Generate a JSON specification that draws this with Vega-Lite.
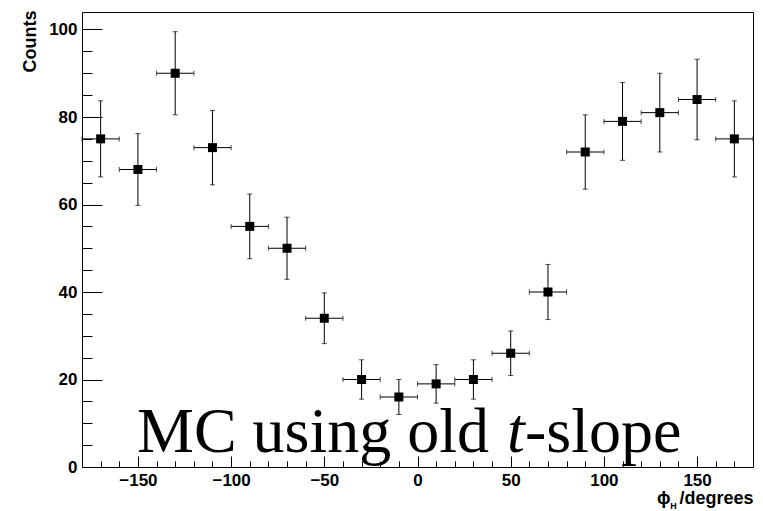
{
  "$schema": "https://vega.github.io/schema/vega-lite/v6.json",
  "width": 671,
  "height": 455,
  "autosize": "none",
  "padding": {"left": 82, "top": 12, "right": 10, "bottom": 44},
  "background": "white",
  "config": {
    "view": {"stroke": "black", "strokeWidth": 1},
    "font": "Liberation Sans",
    "axis": {"grid": false, "labelColor": "black", "titleColor": "black", "tickColor": "black"}
  },
  "data": {
    "values": [
      {"phi": -170, "lo": -180, "hi": -160, "count": 75, "elo": 66.3, "ehi": 83.7},
      {"phi": -150, "lo": -160, "hi": -140, "count": 68, "elo": 59.8, "ehi": 76.2},
      {"phi": -130, "lo": -140, "hi": -120, "count": 90, "elo": 80.5, "ehi": 99.5},
      {"phi": -110, "lo": -120, "hi": -100, "count": 73, "elo": 64.5, "ehi": 81.5},
      {"phi": -90, "lo": -100, "hi": -80, "count": 55, "elo": 47.6, "ehi": 62.4},
      {"phi": -70, "lo": -80, "hi": -60, "count": 50, "elo": 42.9, "ehi": 57.1},
      {"phi": -50, "lo": -60, "hi": -40, "count": 34, "elo": 28.2, "ehi": 39.8},
      {"phi": -30, "lo": -40, "hi": -20, "count": 20, "elo": 15.5, "ehi": 24.5},
      {"phi": -10, "lo": -20, "hi": 0, "count": 16, "elo": 12.0, "ehi": 20.0},
      {"phi": 10, "lo": 0, "hi": 20, "count": 19, "elo": 14.6, "ehi": 23.4},
      {"phi": 30, "lo": 20, "hi": 40, "count": 20, "elo": 15.5, "ehi": 24.5},
      {"phi": 50, "lo": 40, "hi": 60, "count": 26, "elo": 20.9, "ehi": 31.1},
      {"phi": 70, "lo": 60, "hi": 80, "count": 40, "elo": 33.7, "ehi": 46.3},
      {"phi": 90, "lo": 80, "hi": 100, "count": 72, "elo": 63.5, "ehi": 80.5},
      {"phi": 110, "lo": 100, "hi": 120, "count": 79, "elo": 70.1, "ehi": 87.9},
      {"phi": 130, "lo": 120, "hi": 140, "count": 81, "elo": 72.0, "ehi": 90.0},
      {"phi": 150, "lo": 140, "hi": 160, "count": 84, "elo": 74.8, "ehi": 93.2},
      {"phi": 170, "lo": 160, "hi": 180, "count": 75, "elo": 66.3, "ehi": 83.7}
    ]
  },
  "resolve": {"axis": {"x": "independent", "y": "independent"}},
  "layer": [
    {
      "mark": {"type": "rule", "color": "black", "strokeWidth": 1},
      "encoding": {
        "x": {"field": "phi", "type": "quantitative", "scale": {"domain": [-180, 180], "nice": false, "zero": false},
          "axis": {"orient": "bottom", "values": [-150, -100, -50, 0, 50, 100, 150], "ticks": false, "domain": false,
            "labelFontSize": 17, "labelFontWeight": "bold", "labelPadding": 5,
            "title": "ϕ\u2002/degrees", "titleFontSize": 18, "titleFontWeight": "bold", "titleAlign": "right", "titleBaseline": "alphabetic", "titleX": 671, "titleY": 36}},
        "y": {"field": "elo", "type": "quantitative", "scale": {"domain": [0, 104], "nice": false, "zero": false},
          "axis": {"orient": "left", "values": [0, 20, 40, 60, 80, 100], "ticks": false, "domain": false,
            "labelFontSize": 17, "labelFontWeight": "bold", "labelPadding": 5,
            "title": "Counts", "titleFontSize": 18, "titleFontWeight": "bold", "titleAnchor": "end", "titlePadding": 9, "titleY": -2}},
        "y2": {"field": "ehi"}
      }
    },
    {
      "mark": {"type": "rule", "color": "black", "strokeWidth": 1},
      "encoding": {
        "x": {"field": "lo", "type": "quantitative", "scale": {"domain": [-180, 180], "nice": false, "zero": false},
          "axis": {"orient": "bottom", "values": [-150, -100, -50, 0, 50, 100, 150], "tickSize": -11, "labels": false, "domain": false,
            "title": "H", "titleFontSize": 9, "titleFontWeight": "bold", "titleAlign": "center", "titleBaseline": "alphabetic", "titleX": 591, "titleY": 41}},
        "x2": {"field": "hi"},
        "y": {"field": "count", "type": "quantitative", "scale": {"domain": [0, 104], "nice": false, "zero": false},
          "axis": {"orient": "left", "values": [0, 20, 40, 60, 80, 100], "tickSize": -20, "labels": false, "domain": false, "title": null}}
      }
    },
    {
      "mark": {"type": "tick", "orient": "horizontal", "color": "black", "size": 5, "thickness": 1},
      "encoding": {
        "x": {"field": "phi", "type": "quantitative", "scale": {"domain": [-180, 180], "nice": false, "zero": false}, "axis": null},
        "y": {"field": "elo", "type": "quantitative", "scale": {"domain": [0, 104], "nice": false, "zero": false}, "axis": null}
      }
    },
    {
      "mark": {"type": "tick", "orient": "horizontal", "color": "black", "size": 5, "thickness": 1},
      "encoding": {
        "x": {"field": "phi", "type": "quantitative", "scale": {"domain": [-180, 180], "nice": false, "zero": false}, "axis": null},
        "y": {"field": "ehi", "type": "quantitative", "scale": {"domain": [0, 104], "nice": false, "zero": false}, "axis": null}
      }
    },
    {
      "mark": {"type": "tick", "orient": "vertical", "color": "black", "size": 5, "thickness": 1},
      "encoding": {
        "x": {"field": "lo", "type": "quantitative", "scale": {"domain": [-180, 180], "nice": false, "zero": false}, "axis": null},
        "y": {"field": "count", "type": "quantitative", "scale": {"domain": [0, 104], "nice": false, "zero": false}, "axis": null}
      }
    },
    {
      "mark": {"type": "tick", "orient": "vertical", "color": "black", "size": 5, "thickness": 1},
      "encoding": {
        "x": {"field": "hi", "type": "quantitative", "scale": {"domain": [-180, 180], "nice": false, "zero": false}, "axis": null},
        "y": {"field": "count", "type": "quantitative", "scale": {"domain": [0, 104], "nice": false, "zero": false}, "axis": null}
      }
    },
    {
      "mark": {"type": "square", "color": "black", "filled": true, "size": 81, "opacity": 1},
      "encoding": {
        "x": {"field": "phi", "type": "quantitative", "scale": {"domain": [-180, 180], "nice": false, "zero": false},
          "axis": {"orient": "bottom", "values": [-170, -160, -140, -130, -120, -110, -90, -80, -70, -60, -40, -30, -20, -10, 10, 20, 30, 40, 60, 70, 80, 90, 110, 120, 130, 140, 160, 170], "tickSize": -6, "labels": false, "domain": false, "title": null}},
        "y": {"field": "count", "type": "quantitative", "scale": {"domain": [0, 104], "nice": false, "zero": false},
          "axis": {"orient": "left", "values": [5, 10, 15, 25, 30, 35, 45, 50, 55, 65, 70, 75, 85, 90, 95], "tickSize": -10, "labels": false, "domain": false, "title": null}}
      }
    },
    {
      "data": {"values": [{}]},
      "mark": {"type": "text", "text": "MC using old", "font": "Liberation Serif", "fontSize": 64, "align": "left", "baseline": "alphabetic", "color": "black"},
      "encoding": {
        "x": {"datum": -150.5, "type": "quantitative", "scale": {"domain": [-180, 180], "nice": false, "zero": false}, "axis": null},
        "y": {"datum": 3.5, "type": "quantitative", "scale": {"domain": [0, 104], "nice": false, "zero": false}, "axis": null}
      }
    },
    {
      "data": {"values": [{}]},
      "mark": {"type": "text", "text": "t", "font": "Liberation Serif", "fontStyle": "italic", "fontSize": 64, "align": "left", "baseline": "alphabetic", "dx": 370, "color": "black"},
      "encoding": {
        "x": {"datum": -150.5, "type": "quantitative", "scale": {"domain": [-180, 180], "nice": false, "zero": false}, "axis": null},
        "y": {"datum": 3.5, "type": "quantitative", "scale": {"domain": [0, 104], "nice": false, "zero": false}, "axis": null}
      }
    },
    {
      "data": {"values": [{}]},
      "mark": {"type": "text", "text": "-slope", "font": "Liberation Serif", "fontSize": 64, "align": "left", "baseline": "alphabetic", "dx": 388, "color": "black"},
      "encoding": {
        "x": {"datum": -150.5, "type": "quantitative", "scale": {"domain": [-180, 180], "nice": false, "zero": false}, "axis": null},
        "y": {"datum": 3.5, "type": "quantitative", "scale": {"domain": [0, 104], "nice": false, "zero": false}, "axis": null}
      }
    }
  ]
}
